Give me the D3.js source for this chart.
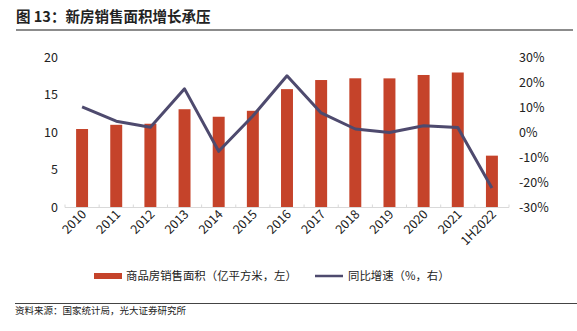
<html>
<head>
<meta charset="utf-8">
<script src="https://cdn.jsdelivr.net/npm/d3@7"></script>
<style>
  body { margin: 0; background: #fff; }
  svg text { font-family: "Noto Sans CJK SC", "Noto Sans", sans-serif; }
</style>
</head>
<body>
<script>
// 商品房销售面积 (亿平方米) 和同比增速 (%)
var years = ["2010","2011","2012","2013","2014","2015","2016","2017","2018","2019","2020","2021","1H2022"];
var area = [10.43, 10.99, 11.13, 13.06, 12.06, 12.85, 15.73, 16.94, 17.17, 17.16, 17.61, 17.94, 6.89];
var growth = [10.1, 4.4, 2.0, 17.3, -7.6, 6.5, 22.5, 7.7, 1.3, -0.1, 2.6, 1.9, -22.2];
var leftTicks = [0, 5, 10, 15, 20];
var rightTicks = [-30, -20, -10, 0, 10, 20, 30];

var w = 577, h = 331;
var barColor = "#c5432a", lineColor = "#4e4a6e";

var svg = d3.select("body").append("svg")
  .attr("width", w)
  .attr("height", h);

// title + rule under it
svg.append("text")
  .attr("x", 16).attr("y", 22)
  .attr("font-size", 14.5).attr("font-weight", "bold")
  .attr("fill", "#222")
  .text("图 13：新房销售面积增长承压");
svg.append("line")
  .attr("x1", 16).attr("x2", 573).attr("y1", 30).attr("y2", 30)
  .attr("stroke", "#8c8c8c").attr("stroke-width", 2);

var x = d3.scaleBand().domain(years).range([65, 509]);
var yL = d3.scaleLinear().domain([0, 20]).range([207.5, 57]);
var yR = d3.scaleLinear().domain([-30, 30]).range([207.5, 57]);

// left axis labels
svg.append("g")
  .attr("transform", "translate(58,0)")
  .call(d3.axisLeft(yL).tickValues(leftTicks).tickSize(0).tickPadding(0))
  .call(function(g) { g.select(".domain").remove(); })
  .selectAll("text")
  .attr("font-size", 12.5).attr("fill", "#222");

// right axis labels
svg.append("g")
  .attr("transform", "translate(519,0)")
  .call(d3.axisRight(yR).tickValues(rightTicks).tickSize(0).tickPadding(0)
    .tickFormat(function(d) { return d + "%"; }))
  .call(function(g) { g.select(".domain").remove(); })
  .selectAll("text")
  .attr("font-size", 12.5).attr("fill", "#222");

// bars
svg.selectAll("rect.bar")
  .data(area)
  .enter()
  .append("rect")
  .attr("class", "bar")
  .attr("x", function(d, i) { return x(years[i]) + x.bandwidth() * 0.325; })
  .attr("width", x.bandwidth() * 0.35)
  .attr("y", function(d) { return yL(d); })
  .attr("height", function(d) { return yL(0) - yL(d); })
  .attr("fill", barColor);

// category axis with ticks between categories
var base = yL(0);
svg.append("line")
  .attr("x1", x.range()[0]).attr("x2", x.range()[1])
  .attr("y1", base).attr("y2", base)
  .attr("stroke", "#d9d9d9").attr("stroke-width", 1);
var bounds = years.map(function(d) { return x(d); }).concat([x.range()[1]]);
svg.selectAll("line.tick")
  .data(bounds)
  .enter()
  .append("line")
  .attr("class", "tick")
  .attr("x1", function(d) { return d; }).attr("x2", function(d) { return d; })
  .attr("y1", base).attr("y2", base - 3)
  .attr("stroke", "#d9d9d9");

svg.selectAll("text.xlab")
  .data(years)
  .enter()
  .append("text")
  .attr("class", "xlab")
  .attr("text-anchor", "end")
  .attr("font-size", 12.5)
  .attr("fill", "#222")
  .attr("transform", function(d) {
    var cx = x(d) + x.bandwidth() / 2 + 5;
    return "translate(" + cx + ",215) rotate(-45)";
  })
  .text(function(d) { return d; });

// growth line
var line = d3.line()
  .x(function(d, i) { return x(years[i]) + x.bandwidth() / 2; })
  .y(function(d) { return yR(d); });
svg.append("path")
  .datum(growth)
  .attr("d", line)
  .attr("fill", "none")
  .attr("stroke", lineColor)
  .attr("stroke-width", 3)
  .attr("stroke-linejoin", "round");

// legend
var ly = 276;
svg.append("rect")
  .attr("x", 94).attr("y", ly - 3).attr("width", 28).attr("height", 6)
  .attr("fill", barColor);
svg.append("text")
  .attr("x", 126).attr("y", ly + 4)
  .attr("font-size", 11.4).attr("fill", "#222")
  .text("商品房销售面积（亿平方米，左）");
svg.append("line")
  .attr("x1", 315).attr("x2", 343).attr("y1", ly).attr("y2", ly)
  .attr("stroke", lineColor).attr("stroke-width", 2.5);
svg.append("text")
  .attr("x", 348).attr("y", ly + 4)
  .attr("font-size", 11.4).attr("fill", "#222")
  .text("同比增速（%，右）");

// source note
svg.append("line")
  .attr("x1", 15).attr("x2", 577).attr("y1", 303.5).attr("y2", 303.5)
  .attr("stroke", "#444").attr("stroke-width", 1);
svg.append("text")
  .attr("x", 15).attr("y", 314)
  .attr("font-size", 9.5).attr("fill", "#222")
  .text("资料来源：国家统计局，光大证券研究所");
</script>
</body>
</html>
